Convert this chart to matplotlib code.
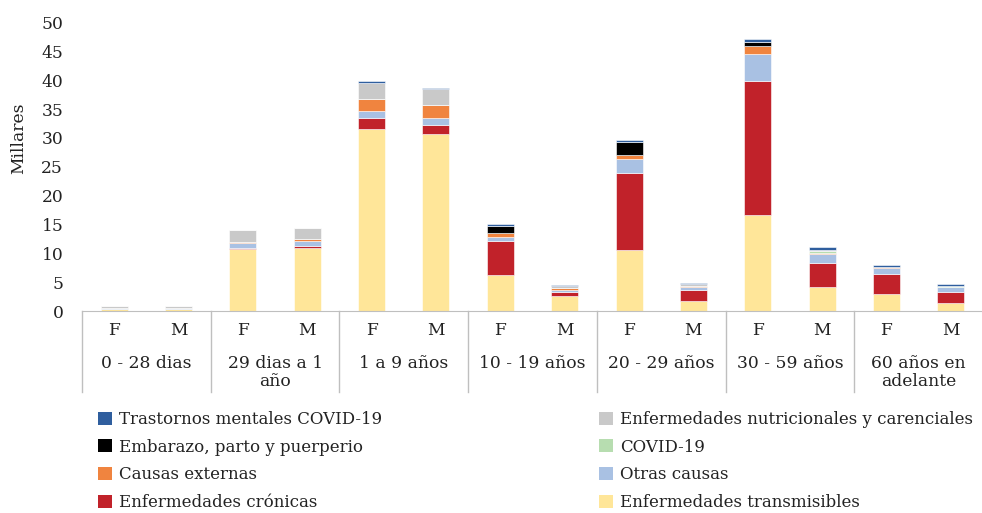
import numpy as np
import matplotlib
matplotlib.use("Agg")
import matplotlib.pyplot as plt
from matplotlib.patches import Patch

plt.rcParams["font.family"] = ["DejaVu Serif"]

# age groups and sex per bar
groups = ["0 - 28 dias", "29 dias a 1\naño", "1 a 9 años", "10 - 19 años",
          "20 - 29 años", "30 - 59 años", "60 años en\nadelante"]
sexes = ["F", "M"]

# deaths in thousands, one value per bar (F, M for each group)
transmisibles = [0.35, 0.35, 10.7, 11.0, 31.5, 30.7, 6.3, 2.55, 10.55, 1.8, 16.7, 4.1, 2.95, 1.45]
cronicas = [0.05, 0.05, 0.3, 0.3, 1.9, 1.5, 5.75, 0.8, 13.35, 1.85, 23.2, 4.2, 3.45, 1.9]
otras = [0.05, 0.05, 0.75, 0.9, 1.2, 1.2, 0.85, 0.35, 2.4, 0.55, 4.6, 1.55, 1.05, 0.8]
externas = [0.05, 0.05, 0.25, 0.2, 2.15, 2.3, 0.7, 0.35, 0.7, 0.15, 1.5, 0.25, 0.1, 0.05]
covid = [0, 0, 0, 0, 0, 0, 0, 0, 0, 0.05, 0, 0.3, 0.05, 0.05]
embarazo = [0, 0, 0, 0, 0, 0, 1.05, 0, 2.3, 0, 0.7, 0, 0, 0]
nutricionales = [0.3, 0.3, 2.0, 2.0, 2.85, 2.7, 0, 0.25, 0, 0.25, 0, 0.2, 0.05, 0.1]
trastornos = [0.02, 0.02, 0.05, 0.05, 0.3, 0.3, 0.45, 0.2, 0.3, 0.27, 0.4, 0.55, 0.3, 0.3]

# stacked bottom to top
series = [
    ("Enfermedades transmisibles", transmisibles, "#FFE699"),
    ("Enfermedades crónicas", cronicas, "#C1222A"),
    ("Otras causas", otras, "#A9C1E3"),
    ("Causas externas", externas, "#F0843F"),
    ("COVID-19", covid, "#B7DDB0"),
    ("Embarazo, parto y puerperio", embarazo, "#000000"),
    ("Enfermedades nutricionales y carenciales", nutricionales, "#C9C9C9"),
    ("Trastornos mentales COVID-19", trastornos, "#2F5E9E"),
]

FS = 12.3
TXT = "#222222"
W, H = 982, 513
fig = plt.figure(figsize=(W / 100, H / 100), dpi=100)
ax = fig.add_axes([82 / W, 1 - 311 / H, 901 / W, (311 - 22.5) / H])

x = np.arange(len(groups) * 2)
bottom = np.zeros(len(x))
for name, vals, color in series:
    vals = np.array(vals)
    ax.bar(x, vals, 0.42, bottom=bottom, color=color, edgecolor="white", linewidth=0.4, label=name)
    bottom += vals

ax.set_xlim(-0.5, len(x) - 0.5)
ax.set_ylim(0, 50)
ax.set_yticks(range(0, 51, 5))
ax.tick_params(axis="y", length=0, pad=13.5, labelsize=FS, labelcolor=TXT)
ax.set_xticks(x)
ax.set_xticklabels(sexes * len(groups))
ax.tick_params(axis="x", length=0, pad=8, labelsize=FS, labelcolor=TXT)
for s in ["left", "right", "top"]:
    ax.spines[s].set_visible(False)
ax.spines["bottom"].set_color("#BFBFBF")

# group labels and separators under the axis
trans = ax.get_xaxis_transform()
ax_h = 311 - 22.5
for i, g in enumerate(groups):
    ax.text(2 * i + 0.5, -(355 - 311) / ax_h, g, transform=trans, ha="center", va="top",
            fontsize=FS, color=TXT, linespacing=1.05)
for i in range(len(groups)):
    ax.plot([2 * i - 0.5, 2 * i - 0.5], [0, -(392 - 311) / ax_h], transform=trans,
            color="#BFBFBF", lw=1, clip_on=False)

fig.text(19 / W, 1 - 138 / H, "Millares", rotation=90, ha="center", va="center",
         fontsize=FS, color=TXT)

# legend in two columns, filled row by row
handles = {name: Patch(facecolor=color) for name, vals, color in series}
col1 = ["Trastornos mentales COVID-19", "Embarazo, parto y puerperio",
        "Causas externas", "Enfermedades crónicas"]
col2 = ["Enfermedades nutricionales y carenciales", "COVID-19",
        "Otras causas", "Enfermedades transmisibles"]
for cols, x0 in [(col1, 98), (col2, 599)]:
    leg = fig.legend([handles[n] for n in cols], cols, loc="upper left",
                     bbox_to_anchor=(x0 / W, 1 - 411 / H), frameon=False,
                     fontsize=12.0, handlelength=0.84, handleheight=0.84,
                     handletextpad=0.42, labelspacing=0.64, borderpad=0, borderaxespad=0)
    for t in leg.get_texts():
        t.set_color(TXT)

fig.savefig("out.png", dpi=100)
